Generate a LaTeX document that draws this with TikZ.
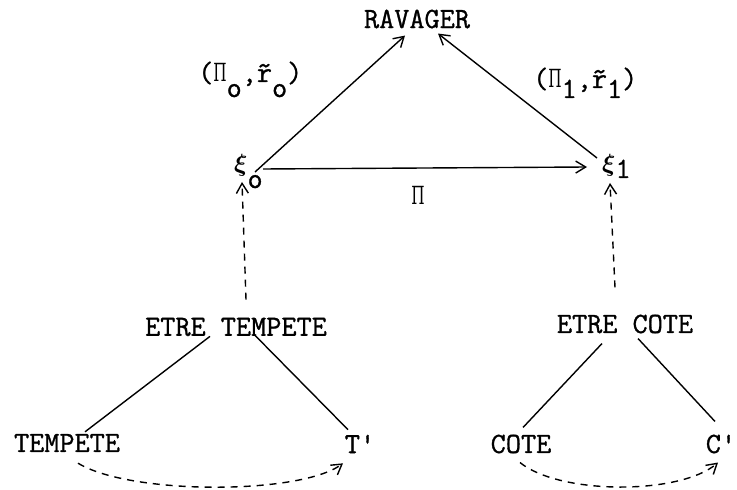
\documentclass[tikz,border=0pt]{standalone}
\usepackage{graphicx}
\usepackage{amsmath}
\usepackage{fontspec}
\setmonofont{Latin Modern Mono}[FakeBold=1.0]
\newfontfamily\grkfont{DejaVu Serif}
\usetikzlibrary{arrows.meta,calc}
\newcommand\lowered[2]{\raisebox{-#1bp}{#2}}
\newcommand\xisym{{\fontsize{25}{25}\selectfont$\boldsymbol{\xi}$}}
\newcommand\pisym{\scalebox{0.52}[0.85]{\grkfont Π}}
\tikzset{
  lbl/.style={inner sep=0pt, font=\fontsize{29.5}{30}\selectfont\ttfamily},
  conn/.style={line width=1.4bp},
  arr/.style={conn, -{Straight Barb[length=10bp,width=12bp,line width=1.4bp]}},
  darr/.style={arr, dash pattern=on 7bp off 6bp},
}
\begin{document}
\begin{tikzpicture}[x=1bp,y=-1bp]
\useasboundingbox (0,0) rectangle (737,490);
% nodes
\node[lbl] (rav) at (417,19) {RAVAGER};
\node[lbl,anchor=base west] (lab0) at (198,82) {(\pisym\lowered{15}{o},\~r\lowered{15}{o})};
\node[lbl,anchor=base west] (lab1) at (533,88) {(\pisym\lowered{10}{1},\~r\lowered{10}{1})};
\node[lbl,anchor=base west] (xi0) at (234,172) {\xisym\lowered{16}{o}};
\node[lbl,anchor=base west] (xi1) at (602,172) {\xisym\lowered{6}{1}};
\node[lbl] (pilab) at (418,195) {\pisym};
\node[lbl] (et) at (236,327) {ETRE TEMPETE};
\node[lbl] (ec) at (625,324) {ETRE COTE};
\node[lbl] (tp) at (67,443) {TEMPETE};
\node[lbl] (tq) at (360,444) {T'};
\node[lbl] (co) at (521,444) {COTE};
\node[lbl] (cq) at (721,444) {C'};
% connectors
\draw[arr] ($(xi0.base west)+(21,0)$) -- ($(rav.south)+(-12,7)$);
\draw[arr] ($(xi1.base west)+(-5,-14)$) -- ($(rav.south)+(21,5)$);
\draw[arr] ($(xi0.base west)+(29,-3)$) -- ($(xi1.base west)+(-15,-5)$);
\draw[darr] ($(et.north)+(10,-18)$) -- ($(xi0.base west)+(8,10)$);
\draw[darr] ($(ec.north)+(-10,-27)$) -- ($(xi1.base west)+(8,11)$);
\draw[conn] ($(et.south)+(-26,0)$) -- ($(tp.north)+(18,-2)$);
\draw[conn] ($(et.south)+(19,-1)$) -- ($(tq.north)+(-12,-5)$);
\draw[conn] ($(ec.south)+(-23,10)$) -- ($(co.north)+(2,-7)$);
\draw[conn] ($(ec.south)+(13,5)$) -- ($(cq.north)+(-6,-13)$);
\draw[darr] ($(tp.south)+(11,11)$) .. controls (130,495) and (300,495) .. ($(tq.south)+(-17,10)$);
\draw[darr] ($(co.south)+(-1,9)$) .. controls (560,495) and (680,495) .. ($(cq.south)+(-3,9)$);
\end{tikzpicture}
\end{document}
